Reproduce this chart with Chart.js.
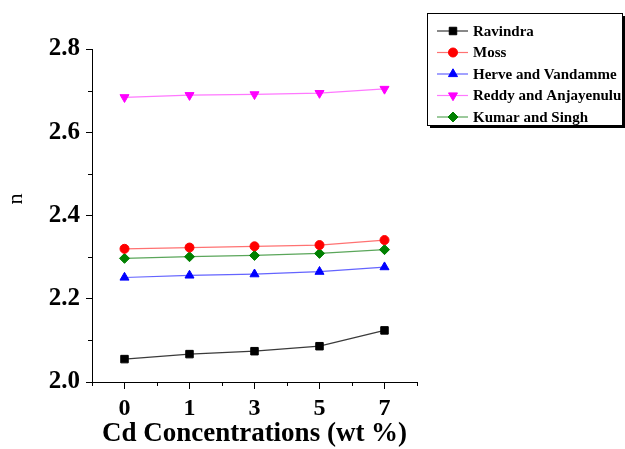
<!DOCTYPE html>
<html lang="en">
<head>
  <meta charset="UTF-8">
  <title>n vs Cd Concentrations</title>
  <script src="https://cdn.jsdelivr.net/npm/chart.js"></script>
  <style>
    html, body { margin: 0; padding: 0; background: #fff; }
    #wrap { width: 625px; height: 449px; position: relative; }
  </style>
</head>
<body>
<div id="wrap"><canvas id="grafik"></canvas></div>

<script>
  // data
  const categories = ['0', '1', '3', '5', '7'];
  const ravindra = [2.055, 2.067, 2.074, 2.086, 2.124];
  const moss     = [2.320, 2.323, 2.326, 2.329, 2.341];
  const herve    = [2.251, 2.256, 2.259, 2.265, 2.276];
  const reddy    = [2.684, 2.689, 2.691, 2.694, 2.704];
  const kumar    = [2.297, 2.301, 2.304, 2.309, 2.318];
  const minorY   = [2.1, 2.3, 2.5, 2.7];

  const serif = "'Liberation Serif', 'Times New Roman', serif";

  function seri(label, data, line, mark, style, r, rot) {
    return {
      label: label,
      data: data,
      borderColor: line,
      backgroundColor: mark,
      borderWidth: 1.2,
      pointStyle: style,
      pointRadius: r,
      pointRotation: rot || 0,
      pointBackgroundColor: mark,
      pointBorderColor: mark,
      pointBorderWidth: 1,
      tension: 0,
      fill: false
    };
  }

  // legend in a box with a drop shadow, drawn by hand
  const kotakLegend = {
    id: 'kotakLegend',
    afterDraw(chart) {
      const ctx = chart.ctx;
      const x = 427, y = 13, w = 195, h = 112;
      ctx.save();
      ctx.fillStyle = '#000';
      ctx.fillRect(x + 3, y + 3, w, h);
      ctx.fillStyle = '#fff';
      ctx.fillRect(x, y, w, h);
      ctx.strokeStyle = '#000';
      ctx.lineWidth = 1;
      ctx.strokeRect(x + 0.5, y + 0.5, w, h);
      ctx.font = 'bold 15px ' + serif;
      ctx.textBaseline = 'middle';
      ctx.textAlign = 'left';
      chart.data.datasets.forEach((ds, i) => {
        const cy = 31 + i * 21.5;
        ctx.strokeStyle = ds.borderColor;
        ctx.lineWidth = 1.2;
        ctx.beginPath();
        ctx.moveTo(437, cy);
        ctx.lineTo(468, cy);
        ctx.stroke();
        ctx.fillStyle = ds.pointBackgroundColor;
        ctx.strokeStyle = ds.pointBorderColor;
        ctx.lineWidth = 1;
        Chart.helpers.drawPoint(ctx, {
          pointStyle: ds.pointStyle,
          rotation: ds.pointRotation,
          radius: ds.pointRadius,
          borderWidth: 1
        }, 453, cy);
        ctx.fillStyle = '#000';
        ctx.fillText(ds.label, 473, cy + 1);
      });
      ctx.restore();
    }
  };

  // short minor ticks on both axes, plus the y title placed as in the figure
  const tickKecil = {
    id: 'tickKecil',
    afterDraw(chart) {
      const ctx = chart.ctx;
      const xs = chart.scales.x, ys = chart.scales.y;
      ctx.save();
      ctx.strokeStyle = '#000';
      ctx.lineWidth = 1;
      ctx.beginPath();
      minorY.forEach(v => {
        const py = Math.round(ys.getPixelForValue(v)) + 0.5;
        ctx.moveTo(ys.right - 4, py);
        ctx.lineTo(ys.right, py);
      });
      const px = [xs.left, xs.right];
      for (let i = 0; i < categories.length - 1; i++) {
        px.push((xs.getPixelForTick(i) + xs.getPixelForTick(i + 1)) / 2);
      }
      px.forEach(p => {
        const q = Math.round(p) + 0.5;
        ctx.moveTo(q, xs.top);
        ctx.lineTo(q, xs.top + 4);
      });
      ctx.stroke();

      ctx.translate(16, 199);
      ctx.rotate(-Math.PI / 2);
      ctx.font = '22px ' + serif;
      ctx.fillStyle = '#000';
      ctx.textAlign = 'center';
      ctx.textBaseline = 'middle';
      ctx.fillText('n', 0, 0);
      ctx.restore();
    }
  };

  new Chart(document.getElementById('grafik'), {
    type: 'line',
    data: {
      labels: categories,
      datasets: [
        seri('Ravindra', ravindra, '#3a3a3a', '#000000', 'rect', 5.3),
        seri('Moss', moss, '#ff7272', '#ff0000', 'circle', 4.5),
        seri('Herve and Vandamme', herve, '#6464ff', '#0000ff', 'triangle', 5.2),
        seri('Reddy and Anjayenulu', reddy, '#ff78ff', '#ff00ff', 'triangle', 5.2, 180),
        seri('Kumar and Singh', kumar, '#5aa65a', '#008000', 'rectRot', 5)
      ]
    },
    options: {
      responsive: true,
      maintainAspectRatio: false,
      animation: false,
      layout: { padding: { top: 49, right: 208, bottom: 0, left: 0 } },
      plugins: {
        legend: { display: false },
        tooltip: { enabled: false }
      },
      scales: {
        x: {
          offset: true,
          afterFit(s) { s.height = 67; },
          grid: { drawOnChartArea: false, offset: false, tickLength: 7, color: '#000' },
          border: { display: true, color: '#000', width: 1 },
          ticks: {
            color: '#000',
            padding: 5,
            maxRotation: 0,
            font: { family: serif, size: 24, weight: 'bold' }
          },
          title: {
            display: true,
            text: 'Cd Concentrations (wt %)',
            color: '#000',
            padding: { top: 0, bottom: -1 },
            font: { family: serif, size: 27, weight: 'bold' }
          }
        },
        y: {
          min: 2.0,
          max: 2.8,
          afterFit(s) { s.width = 92; },
          grid: { drawOnChartArea: false, tickLength: 6, color: '#000' },
          border: { display: true, color: '#000', width: 1 },
          ticks: {
            stepSize: 0.2,
            color: '#000',
            padding: 6,
            font: { family: serif, size: 25, weight: 'bold' },
            callback: v => Number(v).toFixed(1)
          },
          title: { display: false }
        }
      }
    },
    plugins: [tickKecil, kotakLegend]
  });
</script>
</body>
</html>
